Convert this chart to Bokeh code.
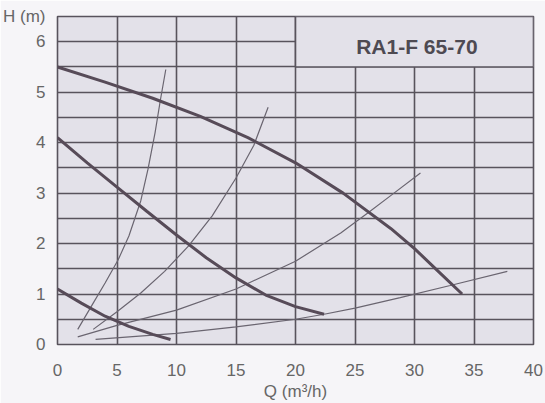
from bokeh.plotting import figure
from bokeh.models import Range1d, FixedTicker
from bokeh.models import Label
from bokeh.embed import file_html
from bokeh.resources import INLINE

# Pump curves (thick), Q in m3/h, H in m
high_q = [0, 4, 8, 12, 16, 20, 24, 28, 30, 32, 34]
high_h = [5.5, 5.2, 4.88, 4.52, 4.1, 3.6, 3.0, 2.3, 1.9, 1.45, 1.0]
med_q = [0, 2.5, 5, 7.5, 10, 12.5, 15, 17.5, 20, 22.4]
med_h = [4.1, 3.6, 3.12, 2.64, 2.17, 1.72, 1.32, 0.98, 0.75, 0.6]
low_q = [0, 2, 4, 6, 8, 9.5]
low_h = [1.1, 0.82, 0.56, 0.36, 0.2, 0.1]

# System curves (thin)
sa_q = [1.7, 3, 4, 5.1, 6, 7, 7.6, 8.2, 8.65, 9.1]
sa_h = [0.3, 0.82, 1.22, 1.68, 2.15, 2.85, 3.47, 4.2, 4.85, 5.45]
sb_q = [3, 5, 7, 9, 11, 13, 15, 16.5, 17.7]
sb_h = [0.3, 0.65, 1.02, 1.45, 1.95, 2.55, 3.3, 3.95, 4.7]
sc_q = [1.7, 5, 10, 15, 20, 23.8, 26.1, 28, 30.5]
sc_h = [0.15, 0.38, 0.68, 1.1, 1.65, 2.21, 2.61, 2.95, 3.4]
sd_q = [3.2, 10, 15, 20, 22.4, 25, 28.8, 33, 37.8]
sd_h = [0.1, 0.22, 0.35, 0.5, 0.6, 0.72, 0.93, 1.17, 1.45]

x_ticks = [0, 5, 10, 15, 20, 25, 30, 35, 40]
y_ticks = [0, 1, 2, 3, 4, 5, 6, 6.5]
y_tick_labels = {6.5: "H (m)"}
y_grid = [0.5, 1, 1.5, 2, 2.5, 3, 3.5, 4, 4.5, 5, 5.5, 6]
title_text = "RA1-F 65-70"
x_label = "Q (m³/h)"

BG = "#e3e1e9"
PAPER = "#f6f5f8"
GRID = "#58535c"
CURVE = "#574b58"
THIN = "#6a6570"
TXT = "#666666"
FONT = "Liberation Sans"

W, H = 545, 403
p = figure(width=W, height=H, output_backend="svg", toolbar_location=None,
           x_range=Range1d(0, 40), y_range=Range1d(0, 6.5),
           min_border_left=57, min_border_right=12, min_border_top=16, min_border_bottom=58)
p.background_fill_color = BG
p.border_fill_color = PAPER
p.outline_line_color = GRID
p.outline_line_width = 1.6

p.xaxis.ticker = FixedTicker(ticks=x_ticks)
p.yaxis.ticker = FixedTicker(ticks=y_ticks)
p.yaxis.major_label_overrides = y_tick_labels
p.xgrid.ticker = FixedTicker(ticks=x_ticks)
p.ygrid.ticker = FixedTicker(ticks=y_grid)
for g in (p.xgrid, p.ygrid):
    g.grid_line_color = GRID
    g.grid_line_width = 1.6
    g.grid_line_alpha = 1.0

for ax in (p.xaxis, p.yaxis):
    ax.axis_line_color = None
    ax.major_tick_line_color = None
    ax.minor_tick_line_color = None
    ax.major_label_text_font = FONT
    ax.major_label_text_font_size = "17px"
    ax.major_label_text_color = TXT
    ax.axis_label_text_font = FONT
    ax.axis_label_text_font_size = "17px"
    ax.axis_label_text_color = TXT
    ax.axis_label_text_font_style = "normal"
p.yaxis.major_label_standoff = 6
p.xaxis.major_label_standoff = 13
p.xaxis.axis_label = x_label
p.xaxis.axis_label_standoff = 3

# title box (no grid inside)
p.quad(left=[20], right=[40], bottom=[5.5], top=[6.5], fill_color=BG,
       line_color=GRID, line_width=1.6)

for q, h in ((sa_q, sa_h), (sb_q, sb_h), (sc_q, sc_h), (sd_q, sd_h)):
    p.line(q, h, line_color=THIN, line_width=1.2)
for q, h in ((high_q, high_h), (med_q, med_h), (low_q, low_h)):
    p.line(q, h, line_color=CURVE, line_width=3)

p.add_layout(Label(x=30.2, y=5.9, text=title_text, text_align="center",
                   text_baseline="middle", text_font=FONT, text_font_size="21px",
                   text_font_style="bold", text_color="#4e4a52"))

open("out.html", "w").write(file_html(p, INLINE))
